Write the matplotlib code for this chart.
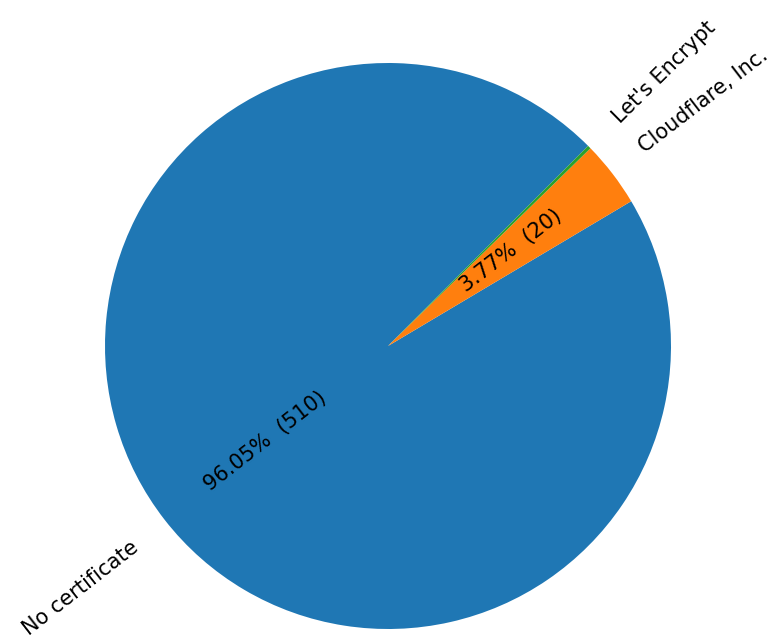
#!/usr/bin/env python3
"""Pie of certificate issuers."""

import matplotlib
matplotlib.use("Agg")
import matplotlib.pyplot as plt

ISSUERS = ["No certificate", "Cloudflare, Inc.", "Let's Encrypt"]
COUNTS = [510, 20, 1]
COLORS = ["#1f77b4", "#ff7f0e", "#2ca02c"]

TOTAL = sum(COUNTS)


def pct_label(pct):
    count = int(round(pct * TOTAL / 100.0))
    if count < 2:
        return ""
    return "{:.2f}%  ({})".format(pct, count)


def main():
    fig = plt.figure(figsize=(7.77, 6.44), dpi=100)
    ax = fig.add_axes([0, 0, 1, 1])
    wedges, texts, autotexts = ax.pie(
        COUNTS, labels=ISSUERS, colors=COLORS, startangle=45,
        autopct=pct_label, pctdistance=0.55, labeldistance=1.1,
        rotatelabels=True, textprops={"fontsize": 15},
    )
    # rotate the percentage texts along with the labels
    for label, auto in zip(texts, autotexts):
        auto.set_rotation(label.get_rotation())
        auto.set_rotation_mode("anchor")

    # place centre at (388, 346) px with radius 283 px
    scale = 283.0
    ax.set_aspect("auto")
    ax.set_xlim(-388 / scale, (777 - 388) / scale)
    ax.set_ylim(-(644 - 346) / scale, 346 / scale)
    fig.savefig("out.png", dpi=100)
    plt.close(fig)


if __name__ == "__main__":
    main()
